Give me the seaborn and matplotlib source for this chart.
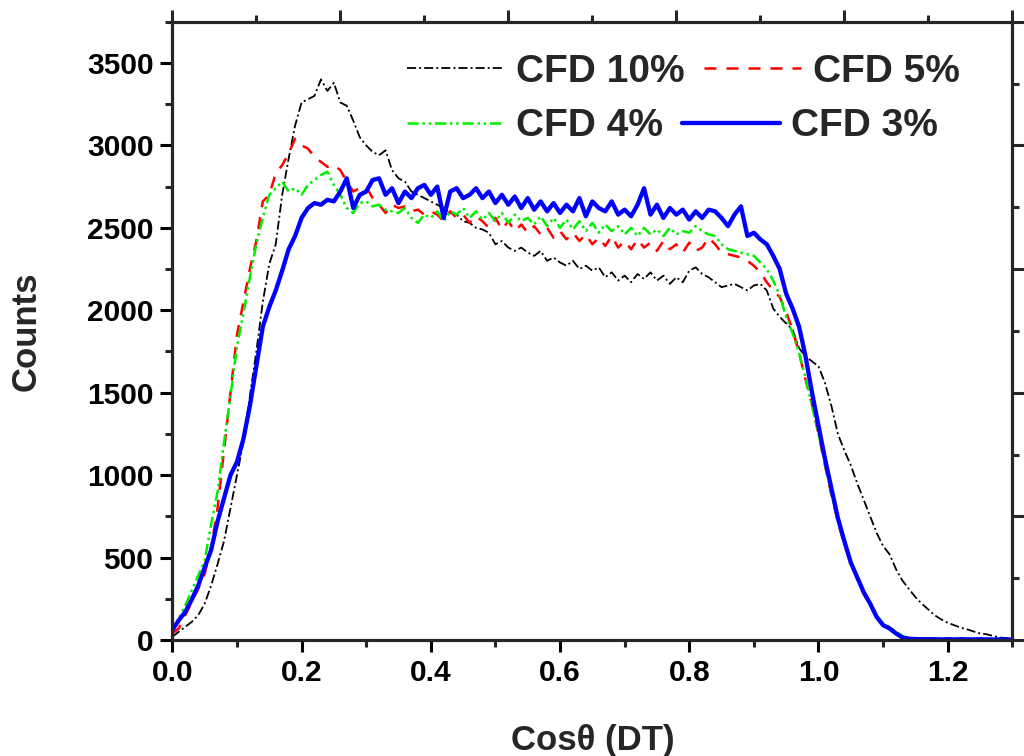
import numpy as np
import pandas as pd
import matplotlib
matplotlib.use("Agg")
import matplotlib.pyplot as plt
from matplotlib.ticker import MultipleLocator, FormatStrFormatter, NullFormatter
import seaborn as sns

# ---------------- data ----------------
cos_theta = np.round(np.arange(0, 131) * 0.01, 2)

cfd10 = [20, 50, 80, 110, 150, 220, 330, 460, 600, 800,
         1000, 1200, 1480, 1750, 2050, 2280, 2400, 2700, 2920, 3120,
         3260, 3280, 3300, 3400, 3330, 3380, 3260, 3240, 3150, 3050,
         3000, 2960, 2940, 2970, 2850, 2800, 2780, 2720, 2700, 2680,
         2660, 2640, 2620, 2590, 2580, 2540, 2530, 2500, 2490, 2470,
         2400, 2420, 2380, 2360, 2380, 2350, 2330, 2360, 2300, 2320,
         2290, 2270, 2300, 2250, 2270, 2240, 2260, 2200, 2230, 2180,
         2210, 2170, 2220, 2190, 2230, 2180, 2210, 2160, 2200, 2170,
         2240, 2260, 2220, 2200, 2170, 2140, 2150, 2160, 2140, 2120,
         2150, 2160, 2120, 2010, 1960, 1920, 1880, 1770, 1720, 1690,
         1660, 1560, 1420, 1250, 1150, 1060, 950, 850, 750, 650,
         570, 520, 430, 360, 310, 260, 220, 185, 150, 125,
         105, 90, 75, 65, 52, 40, 35, 25, 15, 12,
         5]

cfd5 = [40, 70, 150, 230, 310, 400, 560, 800, 1150, 1500,
        1850, 2050, 2250, 2420, 2660, 2700, 2830, 2880, 2950, 3040,
        3000, 2980, 2930, 2900, 2870, 2880, 2850, 2780, 2720, 2740,
        2750, 2680, 2640, 2590, 2640, 2620, 2630, 2600, 2610, 2580,
        2600, 2580, 2540, 2600, 2560, 2580, 2530, 2570, 2540, 2500,
        2560, 2490, 2540, 2480, 2520, 2470, 2510, 2460, 2500, 2440,
        2480, 2430, 2470, 2420, 2460, 2400, 2440, 2390, 2450, 2380,
        2420, 2370, 2430, 2380, 2410, 2360, 2420, 2370, 2400, 2350,
        2410, 2360, 2380, 2440, 2400, 2350, 2340, 2330, 2320, 2300,
        2270, 2230, 2170, 2120, 2080, 1990, 1880, 1740, 1580, 1430,
        1250, 1060, 880, 720, 580, 470, 370, 280, 210, 140,
        95, 75, 45, 20, 10, 6, 5, 5, 4, 5,
        4, 5, 4, 4, 5, 4, 3, 4, 3, 3,
        2]

cfd4 = [60, 130, 210, 300, 390, 480, 700, 900, 1200, 1480,
        1780, 1980, 2200, 2400, 2560, 2700, 2740, 2780, 2720, 2740,
        2700, 2760, 2790, 2820, 2840, 2760, 2700, 2620, 2590, 2650,
        2660, 2630, 2640, 2610, 2600, 2590, 2620, 2560, 2530, 2580,
        2560, 2600, 2540, 2600, 2580, 2620, 2560, 2600, 2550, 2590,
        2540, 2590, 2530, 2580, 2540, 2560, 2520, 2570, 2510, 2560,
        2500, 2550, 2490, 2540, 2480, 2530, 2470, 2520, 2480, 2510,
        2460, 2500, 2450, 2500, 2460, 2490, 2450, 2500, 2460, 2480,
        2470, 2510, 2480, 2460, 2450, 2400, 2370, 2360, 2350, 2340,
        2330, 2290, 2250, 2180, 2090, 1960, 1860, 1740, 1590, 1420,
        1250, 1070, 890, 730, 590, 480, 380, 290, 220, 150,
        100, 80, 50, 25, 10, 6, 5, 5, 4, 5,
        4, 5, 4, 4, 5, 4, 3, 4, 3, 3,
        2]

cfd3 = [60, 120, 170, 245, 330, 440, 545, 720, 860, 1000,
        1080, 1220, 1420, 1660, 1900, 2020, 2120, 2240, 2370, 2450,
        2560, 2620, 2650, 2640, 2670, 2660, 2720, 2800, 2620, 2700,
        2720, 2790, 2800, 2700, 2740, 2650, 2720, 2680, 2740, 2760,
        2700, 2750, 2560, 2720, 2740, 2680, 2700, 2740, 2680, 2720,
        2650, 2700, 2640, 2690, 2620, 2680, 2610, 2660, 2600, 2650,
        2590, 2640, 2600, 2680, 2570, 2660, 2620, 2600, 2660, 2580,
        2610, 2570, 2640, 2740, 2580, 2640, 2560, 2620, 2580, 2610,
        2550, 2600, 2560, 2610, 2600, 2560, 2510, 2580, 2630, 2450,
        2470, 2430, 2400, 2330, 2250, 2100, 2010, 1900, 1720, 1500,
        1300, 1100, 920, 740, 600, 470, 380, 290, 220, 140,
        90, 70, 40, 15, 8, 6, 5, 5, 5, 4,
        5, 4, 5, 4, 4, 5, 4, 3, 4, 3,
        3]

series_labels = ["CFD 10%", "CFD 5%", "CFD 4%", "CFD 3%"]
y_ticks = [0, 500, 1000, 1500, 2000, 2500, 3000, 3500]
x_ticks = [0.0, 0.2, 0.4, 0.6, 0.8, 1.0, 1.2]

# ---------------- style ----------------
sns.set_style("ticks")
plt.rcParams["font.family"] = ["Liberation Sans", "DejaVu Sans"]
plt.rcParams["font.weight"] = "bold"
plt.rcParams["axes.labelweight"] = "bold"

fig = plt.figure(figsize=(10.24, 7.56), dpi=100)
fig.patch.set_facecolor("white")
ax = fig.add_axes([0.1683, 0.1534, 0.8203, 0.8179])
ax.set_facecolor("white")

styles = [
    dict(color="black", linewidth=1.3, linestyle=(0, (5, 1.7, 1.1, 1.7))),
    dict(color="#ff0000", linewidth=1.8, linestyle=(0, (4.8, 4))),
    dict(color="#00ee00", linewidth=1.8, linestyle=(0, (4.5, 1.5, 1, 1.5, 1, 1.5))),
    dict(color="#0000ff", linewidth=3.1, linestyle="-"),
]
for vals, lab, st in zip([cfd10, cfd5, cfd4, cfd3], series_labels, styles):
    df = pd.DataFrame({"x": cos_theta, "y": vals})
    sns.lineplot(data=df, x="x", y="y", ax=ax, label=lab, estimator=None,
                 sort=False, legend=False, **st)

ax.set_xlim(0, 1.3)
ax.set_ylim(0, 3750)

spine_w = 2.2
for s in ax.spines.values():
    s.set_linewidth(spine_w)
    s.set_color("black")

ax.xaxis.set_major_locator(MultipleLocator(0.2))
ax.xaxis.set_minor_locator(MultipleLocator(0.1))
ax.xaxis.set_major_formatter(FormatStrFormatter("%.1f"))
ax.yaxis.set_major_locator(MultipleLocator(500))
ax.yaxis.set_minor_locator(MultipleLocator(250))
ax.tick_params(axis="both", which="major", direction="out", length=8.6,
               width=spine_w, labelsize=21.5, pad=5, colors="black")
ax.tick_params(axis="both", which="minor", direction="out", length=5,
               width=spine_w)
ax.tick_params(top=False, right=False, which="both")
for t in ax.get_xticklabels() + ax.get_yticklabels():
    t.set_fontweight("bold")

ax.set_xlabel("Cos\u03b8 (DT)", fontsize=25, fontweight="bold")
ax.set_ylabel("Counts", fontsize=25, fontweight="bold")
ax.xaxis.set_label_coords(0.5, -0.135)
ax.yaxis.set_label_coords(-0.155, 0.5)

# top and right decorative axes (independent tick spacing, as in the original)
ax_top = ax.twiny()
ax_top.set_xlim(0, 1)
ax_top.xaxis.set_major_locator(MultipleLocator(0.2))
ax_top.xaxis.set_minor_locator(MultipleLocator(0.1))
ax_top.xaxis.set_major_formatter(NullFormatter())
ax_top.tick_params(axis="x", which="major", direction="out", length=8.6, width=spine_w)
ax_top.tick_params(axis="x", which="minor", direction="out", length=5, width=spine_w)
ax_right = ax.twinx()
ax_right.set_ylim(0, 1)
ax_right.yaxis.set_major_locator(MultipleLocator(0.2))
ax_right.yaxis.set_minor_locator(MultipleLocator(0.1))
ax_right.yaxis.set_major_formatter(NullFormatter())
ax_right.tick_params(axis="y", which="major", direction="out", length=8.6, width=spine_w)
ax_right.tick_params(axis="y", which="minor", direction="out", length=5, width=spine_w)
for a in (ax_top, ax_right):
    for s in a.spines.values():
        s.set_linewidth(spine_w)

# legend: two rows, flowing like the original
lines = ax.get_lines()
leg_kw = dict(ncol=2, frameon=False, loc="center left", borderpad=0,
              borderaxespad=0, handlelength=2.5, handletextpad=0.3,
              columnspacing=0.5, prop={"size": 28, "weight": "bold"},
              bbox_transform=fig.transFigure)
leg1 = ax_right.legend(lines[0:2], series_labels[0:2],
                       bbox_to_anchor=(0.3975, 0.905), **leg_kw)
ax_right.add_artist(leg1)
leg2 = ax_right.legend(lines[2:4], series_labels[2:4],
                       bbox_to_anchor=(0.3975, 0.833), **leg_kw)

fig.savefig("out.png", dpi=100, facecolor="white")
